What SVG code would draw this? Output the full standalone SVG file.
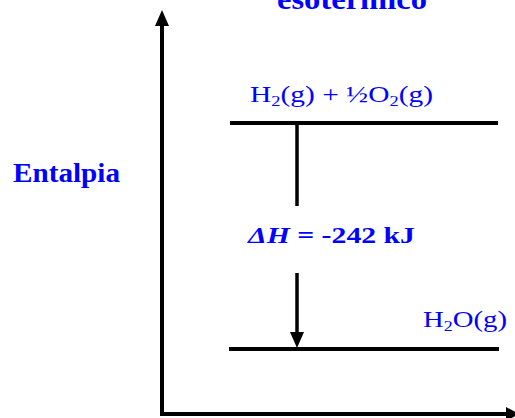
<svg xmlns="http://www.w3.org/2000/svg" width="515" height="418" viewBox="0 0 515 418">
<style>
.t{fill:#0000FF;font-family:"Liberation Serif","Times New Roman",serif}
.b{font-weight:bold}
.ln{stroke:#000;stroke-width:4;fill:none}
</style>
<defs>
<marker id="ah" viewBox="0 0 10 10" refX="10" refY="5" markerWidth="4" markerHeight="4" markerUnits="strokeWidth" orient="auto">
<path d="M0,0 L10,5 L0,10 z" fill="#000"/>
</marker>
</defs>
<rect width="515" height="418" fill="#fff"/>
<text class="t b" x="352" y="9" font-size="30" text-anchor="middle" textLength="150" lengthAdjust="spacingAndGlyphs">esotermico</text>
<g id="axes">
<line class="ln" x1="162" y1="414" x2="162" y2="26"/>
<path d="M162,10 L155,26 L169,26 z" fill="#000"/>
<line class="ln" x1="160" y1="414" x2="508" y2="414"/>
<path d="M519,414 L506,407 L506,421 z" fill="#000"/>
</g>
<g id="ylabel"><text class="t b" x="13" y="182" font-size="27" textLength="107" lengthAdjust="spacingAndGlyphs">Entalpia</text></g>
<g id="reactants">
<line class="ln" x1="230" y1="123" x2="498" y2="123"/>
<text class="t" x="250" y="102" font-size="24" textLength="183" lengthAdjust="spacingAndGlyphs">H<tspan font-size="15" dy="4">2</tspan><tspan dy="-4">(g) + ½O</tspan><tspan font-size="15" dy="4">2</tspan><tspan dy="-4">(g)</tspan></text>
</g>
<g id="products">
<line class="ln" x1="229" y1="349" x2="499" y2="349"/>
<text class="t" x="423" y="327" font-size="24" textLength="84" lengthAdjust="spacingAndGlyphs">H<tspan font-size="15" dy="4">2</tspan><tspan dy="-4">O(g)</tspan></text>
</g>
<g id="connectors">
<line x1="297" y1="123" x2="297" y2="206" stroke="#000" stroke-width="3.5"/>
<line x1="297" y1="273" x2="297" y2="334" stroke="#000" stroke-width="3.5"/>
<path d="M297,348 L290,332 L304,332 z" fill="#000"/>
</g>
<g id="dh"><text class="t b" x="248" y="243" font-size="24" textLength="167" lengthAdjust="spacingAndGlyphs"><tspan font-style="italic">ΔH</tspan> = -242 kJ</text></g>
</svg>
